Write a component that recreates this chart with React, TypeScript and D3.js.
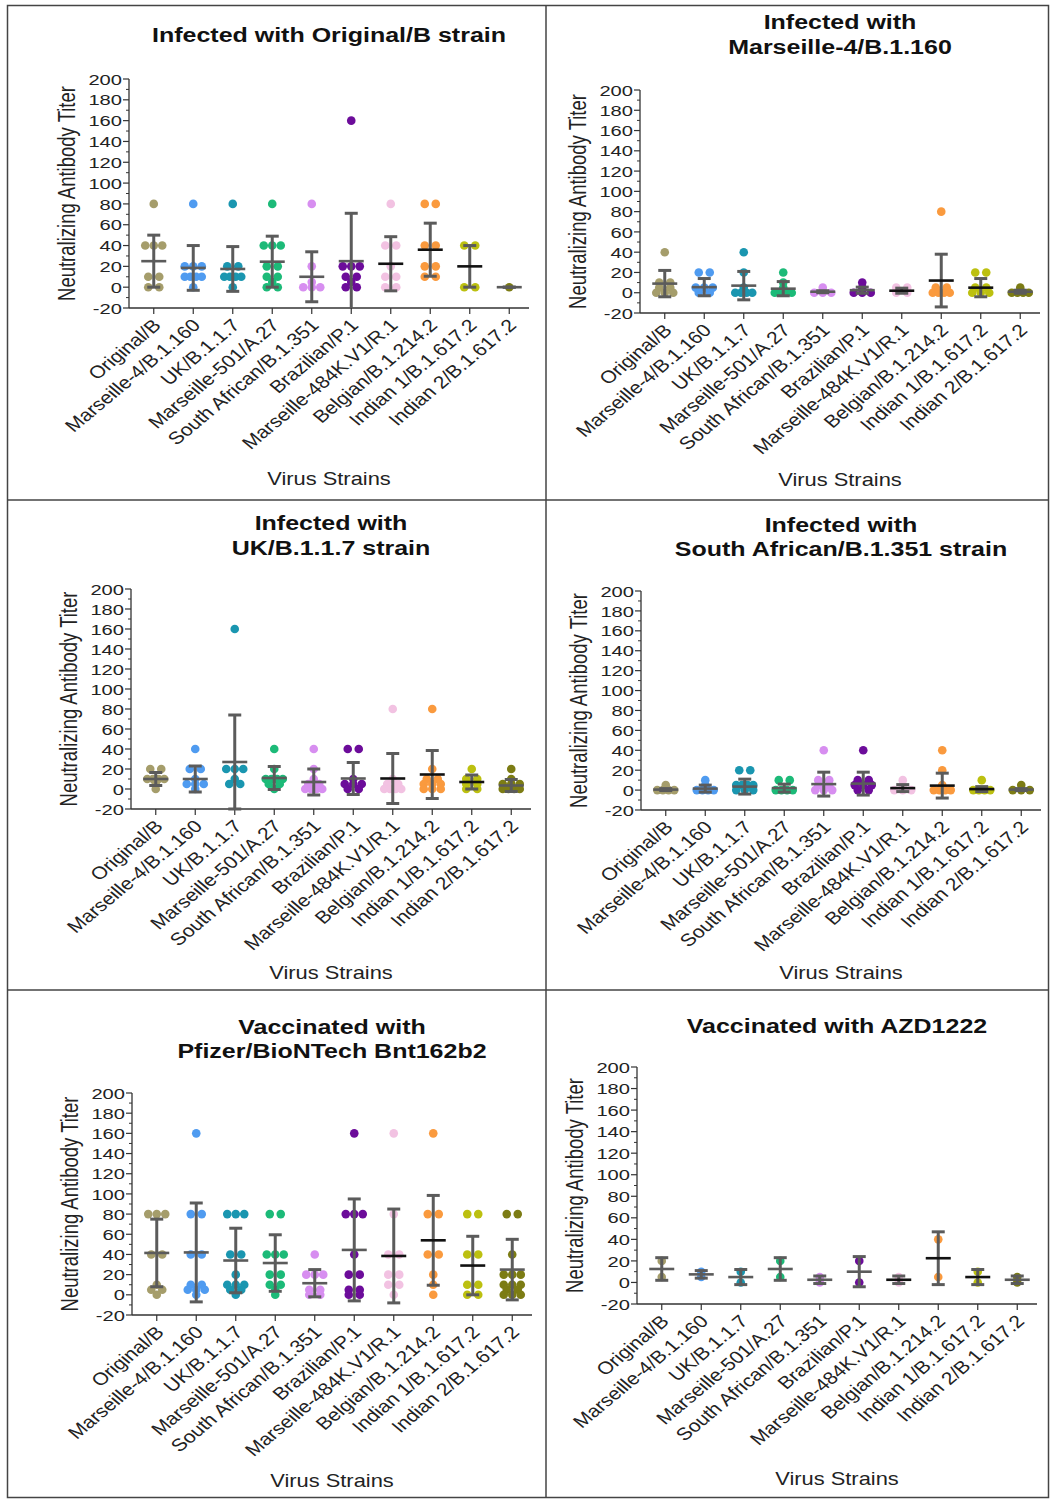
import React from "react";
import * as d3 from "d3";

const strains = [
  "Original/B",
  "Marseille-4/B.1.160",
  "UK/B.1.1.7",
  "Marseille-501/A.27",
  "South African/B.1.351",
  "Brazilian/P.1",
  "Marseille-484K.V1/R.1",
  "Belgian/B.1.214.2",
  "Indian 1/B.1.617.2",
  "Indian 2/B.1.617.2",
];

const strainColors = [
  "#a59d6b", "#4f9bf0", "#1a96b0", "#1cba78", "#d78ef0",
  "#6c0c9a", "#f2c2e2", "#fa9a3e", "#bcc010", "#7c7c14",
];

const yTicks = [-20, 0, 20, 40, 60, 80, 100, 120, 140, 160, 180, 200];

// Infected with Original/B strain
const originalBValues = [
  [80, 40, 40, 40, 10, 10, 0, 0],
  [80, 20, 20, 20, 10, 10, 10, 10, 0],
  [80, 20, 20, 10, 10, 10, 10, 0],
  [80, 40, 40, 40, 20, 20, 10, 10, 5, 0, 0],
  [80, 20, 5, 0, 0, 0],
  [160, 20, 20, 20, 10, 10, 5, 0, 0],
  [80, 40, 40, 20, 10, 10, 0, 0],
  [80, 80, 40, 40, 20, 20, 10, 10],
  [40, 40, 0, 0],
  [0],
];
const originalBMeans = [25, 18.5, 17.5, 24.5, 10, 25, 22.5, 36, 20, 0];
const originalBSd = [25, 21.5, 21.5, 24.5, 24, 46, 26, 25.5, 20, 0];

// Infected with Marseille-4/B.1.160
const marseille4Values = [
  [40, 10, 10, 5, 5, 0, 0, 0],
  [20, 20, 5, 5, 5, 0, 0],
  [40, 20, 5, 0, 0, 0, 0],
  [20, 10, 5, 0, 0, 0, 0],
  [5, 0, 0, 0],
  [10, 5, 0, 0, 0],
  [5, 5, 0, 0],
  [80, 5, 5, 0, 0, 0, 0],
  [20, 20, 5, 5, 0, 0, 0],
  [5, 0, 0, 0, 0],
];
const marseille4Means = [9, 5.5, 7, 4, 1, 2.5, 2, 12, 5, 1];
const marseille4Sd = [13, 8.5, 14, 7, 1, 3, 2.5, 26, 9, 1.5];

// Infected with UK/B.1.1.7 strain
const ukValues = [
  [20, 20, 10, 10, 10, 10, 5, 0],
  [40, 20, 20, 10, 5, 5, 5, 0],
  [160, 20, 20, 20, 10, 5, 5],
  [40, 20, 10, 10, 10, 10, 5, 5, 0],
  [40, 20, 10, 5, 5, 0, 0, 0, 0],
  [40, 40, 10, 5, 5, 5, 0, 0],
  [80, 10, 5, 5, 0, 0, 0, 0],
  [80, 20, 10, 10, 5, 5, 5, 0, 0, 0],
  [20, 10, 10, 5, 5, 0, 0],
  [20, 10, 5, 5, 5, 0, 0, 0, 0],
];
const ukMeans = [10, 10, 27, 11, 7, 10.5, 10.5, 14.5, 7, 3.5];
const ukSd = [6.5, 13, 47, 11.5, 13, 16, 25, 24, 7, 6];

// Infected with South African/B.1.351 strain
const southAfricanValues = [
  [5, 0, 0, 0, 0],
  [10, 5, 0, 0, 0, 0],
  [20, 20, 5, 5, 5, 5, 0, 0, 0],
  [10, 10, 0, 0, 0, 0],
  [40, 10, 10, 5, 5, 0, 0, 0],
  [40, 10, 10, 5, 5, 5, 0, 0],
  [10, 5, 0, 0, 0],
  [40, 20, 5, 0, 0, 0, 0],
  [10, 0, 0, 0, 0],
  [5, 0, 0, 0],
];
const southAfricanMeans = [0.5, 1.5, 3.5, 2, 6, 6.5, 2, 4.5, 1, 0.5];
const southAfricanSd = [1, 3.5, 7.5, 4, 12, 11.5, 3.5, 12.5, 2.5, 1];

// Vaccinated with Pfizer/BioNTech Bnt162b2
const pfizerValues = [
  [80, 80, 80, 40, 40, 10, 5, 5, 0],
  [160, 80, 80, 40, 40, 10, 10, 5, 5, 5, 0],
  [80, 80, 80, 40, 40, 20, 10, 10, 10, 5, 5, 0],
  [80, 80, 40, 40, 40, 20, 20, 10, 10, 5, 0],
  [40, 20, 20, 20, 5, 5, 0, 0],
  [160, 80, 80, 80, 40, 20, 20, 5, 5, 0, 0],
  [160, 80, 40, 40, 20, 20, 10, 10, 0],
  [160, 80, 80, 40, 40, 20, 10, 0],
  [80, 80, 40, 40, 10, 10, 0, 0],
  [80, 80, 40, 20, 20, 20, 10, 10, 10, 5, 5, 0, 0, 0],
];
const pfizerMeans = [41.5, 42, 34, 31.5, 11.5, 44.5, 38.5, 54, 29, 25];
const pfizerSd = [33.5, 49, 32, 28, 13.5, 50.5, 46.5, 44.5, 29, 30];

// Vaccinated with AZD1222
const azdValues = [
  [20, 5],
  [10, 5],
  [10, 0],
  [20, 5],
  [5, 0],
  [20, 0],
  [5, 0],
  [40, 5],
  [10, 0],
  [5, 0],
];
const azdMeans = [12.5, 7.5, 5, 12.5, 2.5, 10, 2.5, 22.5, 5, 2.5];
const azdSd = [10.5, 3.5, 7, 10.5, 3.5, 14, 3.5, 24.5, 7, 3.5];

const panels = [
  { title: ["Infected with Original/B strain"], values: originalBValues, means: originalBMeans, sds: originalBSd },
  { title: ["Infected with", "Marseille-4/B.1.160"], values: marseille4Values, means: marseille4Means, sds: marseille4Sd },
  { title: ["Infected with", "UK/B.1.1.7 strain"], values: ukValues, means: ukMeans, sds: ukSd },
  { title: ["Infected with", "South African/B.1.351 strain"], values: southAfricanValues, means: southAfricanMeans, sds: southAfricanSd },
  { title: ["Vaccinated with", "Pfizer/BioNTech Bnt162b2"], values: pfizerValues, means: pfizerMeans, sds: pfizerSd },
  { title: ["Vaccinated with AZD1222"], values: azdValues, means: azdMeans, sds: azdSd },
];

// where each panel's axes sit on the page
const layouts = [
  { ax: 129, top: 79, bottom: 308, titleY: [42], xTitleY: 485 },
  { ax: 640, top: 90, bottom: 313, titleY: [29, 54], xTitleY: 486 },
  { ax: 131, top: 589, bottom: 809, titleY: [530, 555], xTitleY: 979 },
  { ax: 641, top: 591, bottom: 810, titleY: [532, 556], xTitleY: 979 },
  { ax: 132, top: 1093, bottom: 1315, titleY: [1034, 1058], xTitleY: 1487 },
  { ax: 637, top: 1067, bottom: 1304, titleY: [1033], xTitleY: 1485 },
];

const FONT = "'Liberation Sans', Arial, sans-serif";
const SX = 1.25; // the source figure is stretched horizontally
const barColor = "#5b5b5b";
const axisColor = "#333";

function swarm(vals: number[]) {
  // spread equal values side by side
  const groups = d3.group(vals.map((v, i) => ({ v, i })), (d) => d.v);
  const out: { v: number; dx: number }[] = [];
  groups.forEach((arr) => {
    const n = arr.length;
    const total = n > 1 ? Math.min(11 * (n - 1), 17) : 0;
    arr.forEach((d, k) => {
      out.push({ v: d.v, dx: n > 1 ? -total / 2 + (k * total) / (n - 1) : 0 });
    });
  });
  return out;
}

function Panel({ p, L }: any) {
  const y = d3.scaleLinear().domain([-20, 200]).range([L.bottom, L.top]);
  const x = d3.scaleBand<string>().domain(strains).range([L.ax + 5, L.ax + 400]);
  const cx = (s: string) => (x(s) as number) + x.bandwidth() / 2;
  const cxTitle = L.ax + 200;
  const minor = d3.range(-10, 200, 20);
  const clip = (v: number) => Math.max(-20, Math.min(200, v));

  return (
    <g fontFamily={FONT}>
      {p.title.map((t: string, i: number) => (
        <text
          key={i}
          transform={`translate(${cxTitle},${L.titleY[i]}) scale(${SX},1)`}
          textAnchor="middle"
          fontWeight="bold"
          fontSize={20}
          fill="#111"
        >
          {t}
        </text>
      ))}

      {/* y axis */}
      <line x1={L.ax} x2={L.ax} y1={y(-20)} y2={y(200)} stroke={axisColor} strokeWidth={1.3} />
      {yTicks.map((t) => (
        <g key={t}>
          <line x1={L.ax - 6} x2={L.ax} y1={y(t)} y2={y(t)} stroke={axisColor} strokeWidth={1.2} />
          <text
            transform={`translate(${L.ax - 7},${y(t)}) scale(1.3,1)`}
            dy="0.36em"
            textAnchor="end"
            fontSize={15.5}
            fill="#222"
          >
            {t}
          </text>
        </g>
      ))}
      {minor.map((t) => (
        <line key={t} x1={L.ax - 3} x2={L.ax} y1={y(t)} y2={y(t)} stroke={axisColor} strokeWidth={1} />
      ))}
      <text
        transform={`translate(${L.ax - 62},${(y(-20) + y(200)) / 2}) scale(${SX},1) rotate(-90)`}
        dy="0.36em"
        textAnchor="middle"
        fontSize={18.5}
        fill="#222"
      >
        Neutralizing Antibody Titer
      </text>

      {/* x axis */}
      <line x1={L.ax} x2={L.ax + 400} y1={y(-20)} y2={y(-20)} stroke={axisColor} strokeWidth={1.3} />
      {strains.map((s) => (
        <g key={s}>
          <line x1={cx(s)} x2={cx(s)} y1={y(-20)} y2={y(-20) + 6} stroke={axisColor} strokeWidth={1.2} />
          <text
            transform={`translate(${cx(s) + 3},${y(-20) + 14}) scale(1.2,1) rotate(-45)`}
            dy="0.36em"
            textAnchor="end"
            fontSize={17.5}
            fill="#222"
          >
            {s}
          </text>
        </g>
      ))}
      <text
        transform={`translate(${cxTitle},${L.xTitleY}) scale(${SX},1)`}
        textAnchor="middle"
        fontSize={17.5}
        fill="#222"
      >
        Virus Strains
      </text>

      {/* points, error bars, means */}
      {strains.map((s, i) => {
        const c = cx(s);
        const m = p.means[i];
        const sd = p.sds[i];
        const lo = y(clip(m - sd));
        const hi = y(clip(m + sd));
        const meanColor = i >= 6 && i <= 8 ? "#111" : barColor;
        return (
          <g key={s}>
            {swarm(p.values[i]).map((d, k) => (
              <circle key={k} cx={c + d.dx} cy={y(d.v)} r={4.3} fill={strainColors[i]} />
            ))}
            <line x1={c} x2={c} y1={lo} y2={hi} stroke={barColor} strokeWidth={3} />
            {m + sd <= 200 && <line x1={c - 6.5} x2={c + 6.5} y1={hi} y2={hi} stroke={barColor} strokeWidth={3} />}
            {m - sd >= -20 && <line x1={c - 6.5} x2={c + 6.5} y1={lo} y2={lo} stroke={barColor} strokeWidth={3} />}
            <line x1={c - 12.5} x2={c + 12.5} y1={y(m)} y2={y(m)} stroke={meanColor} strokeWidth={2.6} />
          </g>
        );
      })}
    </g>
  );
}

export default function App() {
  return (
    <svg
      width={1052}
      height={1500}
      style={{ position: "absolute", left: 0, top: 0, background: "#fff" }}
    >
      <rect x={0} y={0} width={1052} height={1500} fill="#fff" />
      {panels.map((p, i) => (
        <Panel key={i} p={p} L={layouts[i]} />
      ))}
      {/* frame around the figure grid */}
      <g stroke="#444" strokeWidth={1.5} fill="none">
        <rect x={7.5} y={5.5} width={1041} height={1492} />
        <line x1={546} x2={546} y1={5.5} y2={1497.5} />
        <line x1={7.5} x2={1048.5} y1={500} y2={500} />
        <line x1={7.5} x2={1048.5} y1={990} y2={990} />
      </g>
    </svg>
  );
}
